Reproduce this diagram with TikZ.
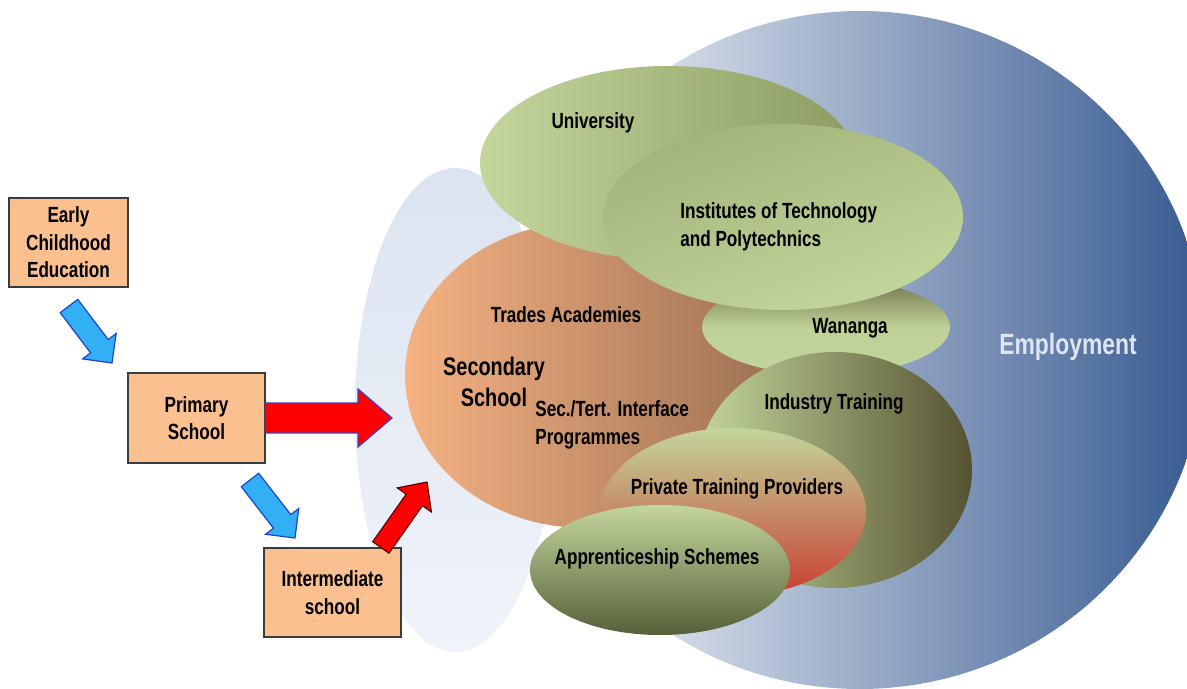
\documentclass[tikz,border=0pt]{standalone}
\usepackage{fontspec}
\setmainfont{Liberation Sans}[FakeStretch=0.78]
\usepackage{xcolor}
\usetikzlibrary{calc,positioning}

\definecolor{empblue}{RGB}{55,90,145}
\definecolor{empword}{RGB}{222,229,242}
\definecolor{paletop}{RGB}{220,228,241}
\definecolor{palebot}{RGB}{240,243,249}
\definecolor{secleft}{RGB}{245,178,130}
\definecolor{secright}{RGB}{160,115,85}
\definecolor{lightgreen}{RGB}{195,214,155}
\definecolor{midgreen}{RGB}{140,156,98}
\definecolor{darkolive}{RGB}{85,82,50}
\definecolor{appdark}{RGB}{86,96,58}
\definecolor{tan}{RGB}{200,168,136}
\definecolor{rust}{RGB}{200,62,50}
\definecolor{boxfill}{RGB}{250,192,144}
\definecolor{boxline}{RGB}{60,60,60}
\definecolor{arrcyan}{RGB}{50,175,245}
\definecolor{arrblue}{RGB}{30,70,200}
\definecolor{arrpurple}{RGB}{70,60,190}

% block arrow: style, tail, tip, shaft half width, head half width, head length
\newcommand{\blockarrow}[6]{%
  \coordinate (hb) at ($(#3)!#6!(#2)$);
  \draw[#1] ($(#2)!#4!90:(#3)$) -- ($(hb)!#4!90:(#3)$) -- ($(hb)!#5!90:(#3)$)
    -- (#3) -- ($(hb)!#5!-90:(#3)$) -- ($(hb)!#4!-90:(#3)$) -- ($(#2)!#4!-90:(#3)$) -- cycle;
}

\tikzset{
  lbl/.style={font=\fontsize{12.5}{15.6}\selectfont\bfseries, inner sep=0pt},
  schoolbox/.style={draw=boxline, fill=boxfill, line width=0.6pt, align=center,
    inner sep=0pt, font=\fontsize{12.5}{15.6}\selectfont\bfseries},
  bluearr/.style={fill=arrcyan, draw=arrblue, line width=0.7pt, line join=miter},
  redarr/.style={fill=red, draw=arrpurple, line width=0.7pt, line join=miter},
  redarrdark/.style={fill=red, draw=black!70!red, line width=0.6pt, line join=miter},
}

\begin{document}
\begin{tikzpicture}[x=0.02cm,y=-0.02cm]
\useasboundingbox (0,0) rectangle (1187,689);

% Centres of the ellipses
\coordinate (E) at (860,350);     % employment
\coordinate (P) at (455,410);     % pale backdrop
\coordinate (S) at (585,375);     % secondary school
\coordinate (U) at (668,163);     % university
\coordinate (I) at (783,217);     % institutes
\coordinate (W) at (826,327);     % wananga
\coordinate (T) at (835,470);     % industry training
\coordinate (R) at (733,512);     % private providers
\coordinate (A) at (660,570);     % apprenticeships

% Ellipses, back to front
\shade[left color=white, middle color=empblue!38!white, right color=empblue] (E) ellipse [x radius=345, y radius=339];
\shade[top color=paletop, bottom color=palebot] (P) ellipse [x radius=100, y radius=242];
\shade[left color=secleft, right color=secright] (S) ellipse [x radius=180, y radius=153];
\shade[left color=lightgreen, right color=midgreen] (U) ellipse [x radius=188, y radius=97];
\shade[top color=darkolive!75!lightgreen, bottom color=lightgreen, middle color=lightgreen!90!midgreen] (W) ellipse [x radius=124, y radius=48];
\shade[top color=midgreen!60!lightgreen, bottom color=lightgreen, shading angle=20] (I) ellipse [x radius=180, y radius=93];
\shade[left color=lightgreen, right color=darkolive] (T) ellipse [x radius=137, y radius=118];
\shade[top color=lightgreen, middle color=tan, bottom color=rust] (R) ellipse [x radius=133, y radius=84];
\shade[top color=lightgreen, bottom color=appdark] (A) ellipse [x radius=130, y radius=65];

% Labels
\node[lbl] (uni) at (593,123) {University};
\node[lbl, align=left, anchor=west] (itp) at (680,227) {Institutes of Technology\\and Polytechnics};
\node[lbl] (trades) at (566,315) {Trades Academies};
\node[lbl, align=center, font=\fontsize{14.5}{18}\selectfont\bfseries] (sec) at (494,382) {Secondary\\School};
\node[lbl, align=left, anchor=west] (stip) at (535,425) {Sec./Tert. Interface\\Programmes};
\node[lbl] (wan) at (850,328) {Wananga};
\node[lbl] (ind) at (834,404) {Industry Training};
\node[lbl] (ptp) at (737,489) {Private Training Providers};
\node[lbl] (app) at (657,559) {Apprenticeship Schemes};
\node[lbl, text=empword, font=\fontsize{16.7}{20}\selectfont\bfseries] (emp) at (1068,347) {Employment};

% School boxes
\node[schoolbox, minimum width=2.38cm, minimum height=1.78cm] (ece) at (68.5,242.5) {Early\\Childhood\\Education};
\node[schoolbox, minimum width=2.74cm, minimum height=1.80cm] (prim) at (196.5,418) {Primary\\School};
\node[schoolbox, minimum width=2.74cm, minimum height=1.78cm] (inter) at (332.5,592.5) {Intermediate\\school};

% Arrow ends
\coordinate (b1s) at (69,306);
\coordinate (b1e) at (112,363);
\coordinate (b2s) at (250,480);
\coordinate (b2e) at (295,538);
\coordinate (r1e) at (392,418);
\coordinate (r2s) at ($(inter.north west)!0.85!(inter.north east)$);
\coordinate (r2e) at (427,482);

% Arrows
\blockarrow{bluearr}{b1s}{b1e}{0.22cm}{0.42cm}{0.42cm}
\blockarrow{bluearr}{b2s}{b2e}{0.22cm}{0.42cm}{0.42cm}
\blockarrow{redarr}{prim.east}{r1e}{0.3cm}{0.58cm}{0.68cm}
\blockarrow{redarrdark}{r2s}{r2e}{0.2cm}{0.42cm}{0.44cm}

\end{tikzpicture}
\end{document}
